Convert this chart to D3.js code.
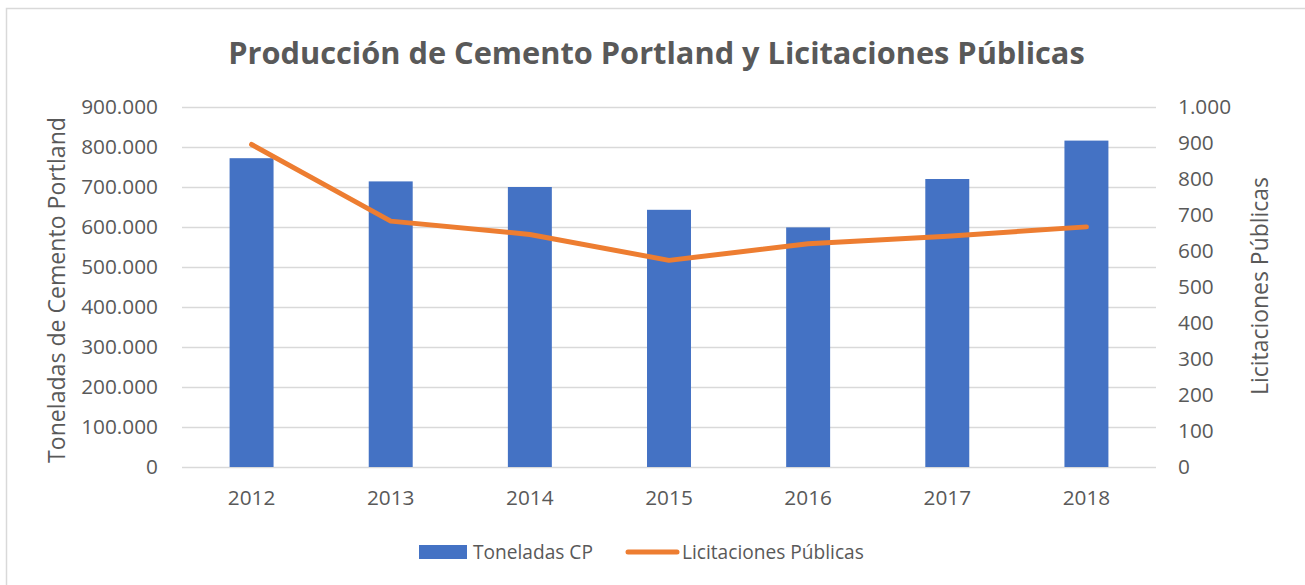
<!DOCTYPE html>
<html>
<head>
<meta charset="utf-8">
<script src="https://cdn.jsdelivr.net/npm/d3@7"></script>
<style>
  body { margin: 0; background: #fff; }
  svg text { font-family: "Open Sans", "Noto Sans", sans-serif; fill: #595959; }
</style>
</head>
<body>
<div id="chart"></div>
<script>
const years = ["2012", "2013", "2014", "2015", "2016", "2017", "2018"];
const toneladasCP = [772000, 714000, 700000, 643000, 599000, 720000, 816000];
const licitaciones = [896, 683, 646, 574, 620, 641, 667];
const leftTicks = [0, 100000, 200000, 300000, 400000, 500000, 600000, 700000, 800000, 900000];
const rightTicks = [0, 100, 200, 300, 400, 500, 600, 700, 800, 900, 1000];

const W = 1305, H = 585;
const margin = { top: 107, right: 149, bottom: 118, left: 182 };
const width = W - margin.left - margin.right;
const height = H - margin.top - margin.bottom;

const blue = "#4472C4", orange = "#ED7D31", grid = "#d9d9d9";

const loc = d3.formatLocale({ decimal: ",", thousands: ".", grouping: [3], currency: ["$", ""] });
const fmt = loc.format(",d");

const svg = d3.select("#chart").append("svg")
    .attr("width", W).attr("height", H);

// outer border (right/bottom fall outside the picture)
svg.append("rect")
    .attr("x", 6.5).attr("y", 8.5)
    .attr("width", W + 10).attr("height", H + 10)
    .attr("fill", "#fff").attr("stroke", grid).attr("stroke-width", 1.5);

// shrink/grow a text so it spans the measured width
function fitText(sel, target) {
    const node = sel.node();
    const fs = parseFloat(sel.style("font-size"));
    const len = node.getComputedTextLength();
    const size = fs * target / len;
    sel.style("font-size", size + "px");
    return size;
}

svg.append("text")
    .attr("x", 656.5).attr("y", 64)
    .attr("text-anchor", "middle")
    .style("font-size", "30px").style("font-weight", "bold")
    .text("Producción de Cemento Portland y Licitaciones Públicas")
    .call(s => fitText(s, 857));

const g = svg.append("g").attr("transform", `translate(${margin.left},${margin.top})`);

const x = d3.scaleBand().domain(years).range([0, width]).paddingInner(0.684).paddingOuter(0.342);
const yL = d3.scaleLinear().domain([0, 900000]).range([height, 0]);
const yR = d3.scaleLinear().domain([0, 1000]).range([height, 0]);

// gridlines
g.append("g")
    .call(d3.axisLeft(yL).tickValues(leftTicks).tickSize(-width).tickFormat(""))
    .call(a => a.select(".domain").remove())
    .call(a => a.selectAll("line").attr("stroke", grid).attr("stroke-width", 1.4));

// left axis labels
const tickSize = 20.8;
const leftAxis = g.append("g")
    .attr("transform", "translate(-24,0)")
    .call(d3.axisLeft(yL).tickValues(leftTicks).tickSize(0).tickPadding(0).tickFormat(fmt));
leftAxis.select(".domain").remove();
leftAxis.selectAll("text").attr("font-family", null).style("font-size", tickSize + "px").attr("fill", null);

// right axis labels
const rightAxis = g.append("g")
    .attr("transform", `translate(${width + 22},0)`)
    .call(d3.axisRight(yR).tickValues(rightTicks).tickSize(0).tickPadding(0).tickFormat(fmt));
rightAxis.select(".domain").remove();
rightAxis.selectAll("text").attr("font-family", null).style("font-size", tickSize + "px").attr("fill", null);

// x axis labels
const xAxis = g.append("g")
    .attr("transform", `translate(0,${height + 23})`)
    .call(d3.axisBottom(x).tickSize(0).tickPadding(0));
xAxis.select(".domain").remove();
xAxis.selectAll("text").attr("font-family", null).style("font-size", tickSize + "px").attr("fill", null);

// bars
g.selectAll(".bar").data(years).enter().append("rect")
    .attr("class", "bar")
    .attr("x", d => x(d))
    .attr("width", x.bandwidth())
    .attr("y", (d, i) => yL(toneladasCP[i]))
    .attr("height", (d, i) => height - yL(toneladasCP[i]))
    .attr("fill", blue);

// line
const line = d3.line()
    .x((d, i) => x(years[i]) + x.bandwidth() / 2)
    .y(d => yR(d));
g.append("path")
    .datum(licitaciones)
    .attr("d", line)
    .attr("fill", "none")
    .attr("stroke", orange)
    .attr("stroke-width", 5)
    .attr("stroke-linecap", "round")
    .attr("stroke-linejoin", "round");

// axis titles
svg.append("text")
    .attr("transform", "translate(65,290) rotate(-90)")
    .attr("text-anchor", "middle")
    .style("font-size", "22px")
    .text("Toneladas de Cemento Portland")
    .call(s => fitText(s, 346));

svg.append("text")
    .attr("transform", "translate(1268,286) rotate(-90)")
    .attr("text-anchor", "middle")
    .style("font-size", "22px")
    .text("Licitaciones Públicas")
    .call(s => fitText(s, 218));

// legend
const legend = svg.append("g");
legend.append("rect")
    .attr("x", 419).attr("y", 545).attr("width", 48).attr("height", 14)
    .attr("fill", blue);
const lt1 = legend.append("text")
    .attr("x", 473).attr("y", 559)
    .style("font-size", "19px")
    .text("Toneladas CP");
const legSize = fitText(lt1, 120);
legend.append("line")
    .attr("x1", 628).attr("x2", 677).attr("y1", 552).attr("y2", 552)
    .attr("stroke", orange).attr("stroke-width", 5).attr("stroke-linecap", "round");
legend.append("text")
    .attr("x", 682).attr("y", 559)
    .style("font-size", legSize + "px")
    .text("Licitaciones Públicas");
</script>
</body>
</html>
